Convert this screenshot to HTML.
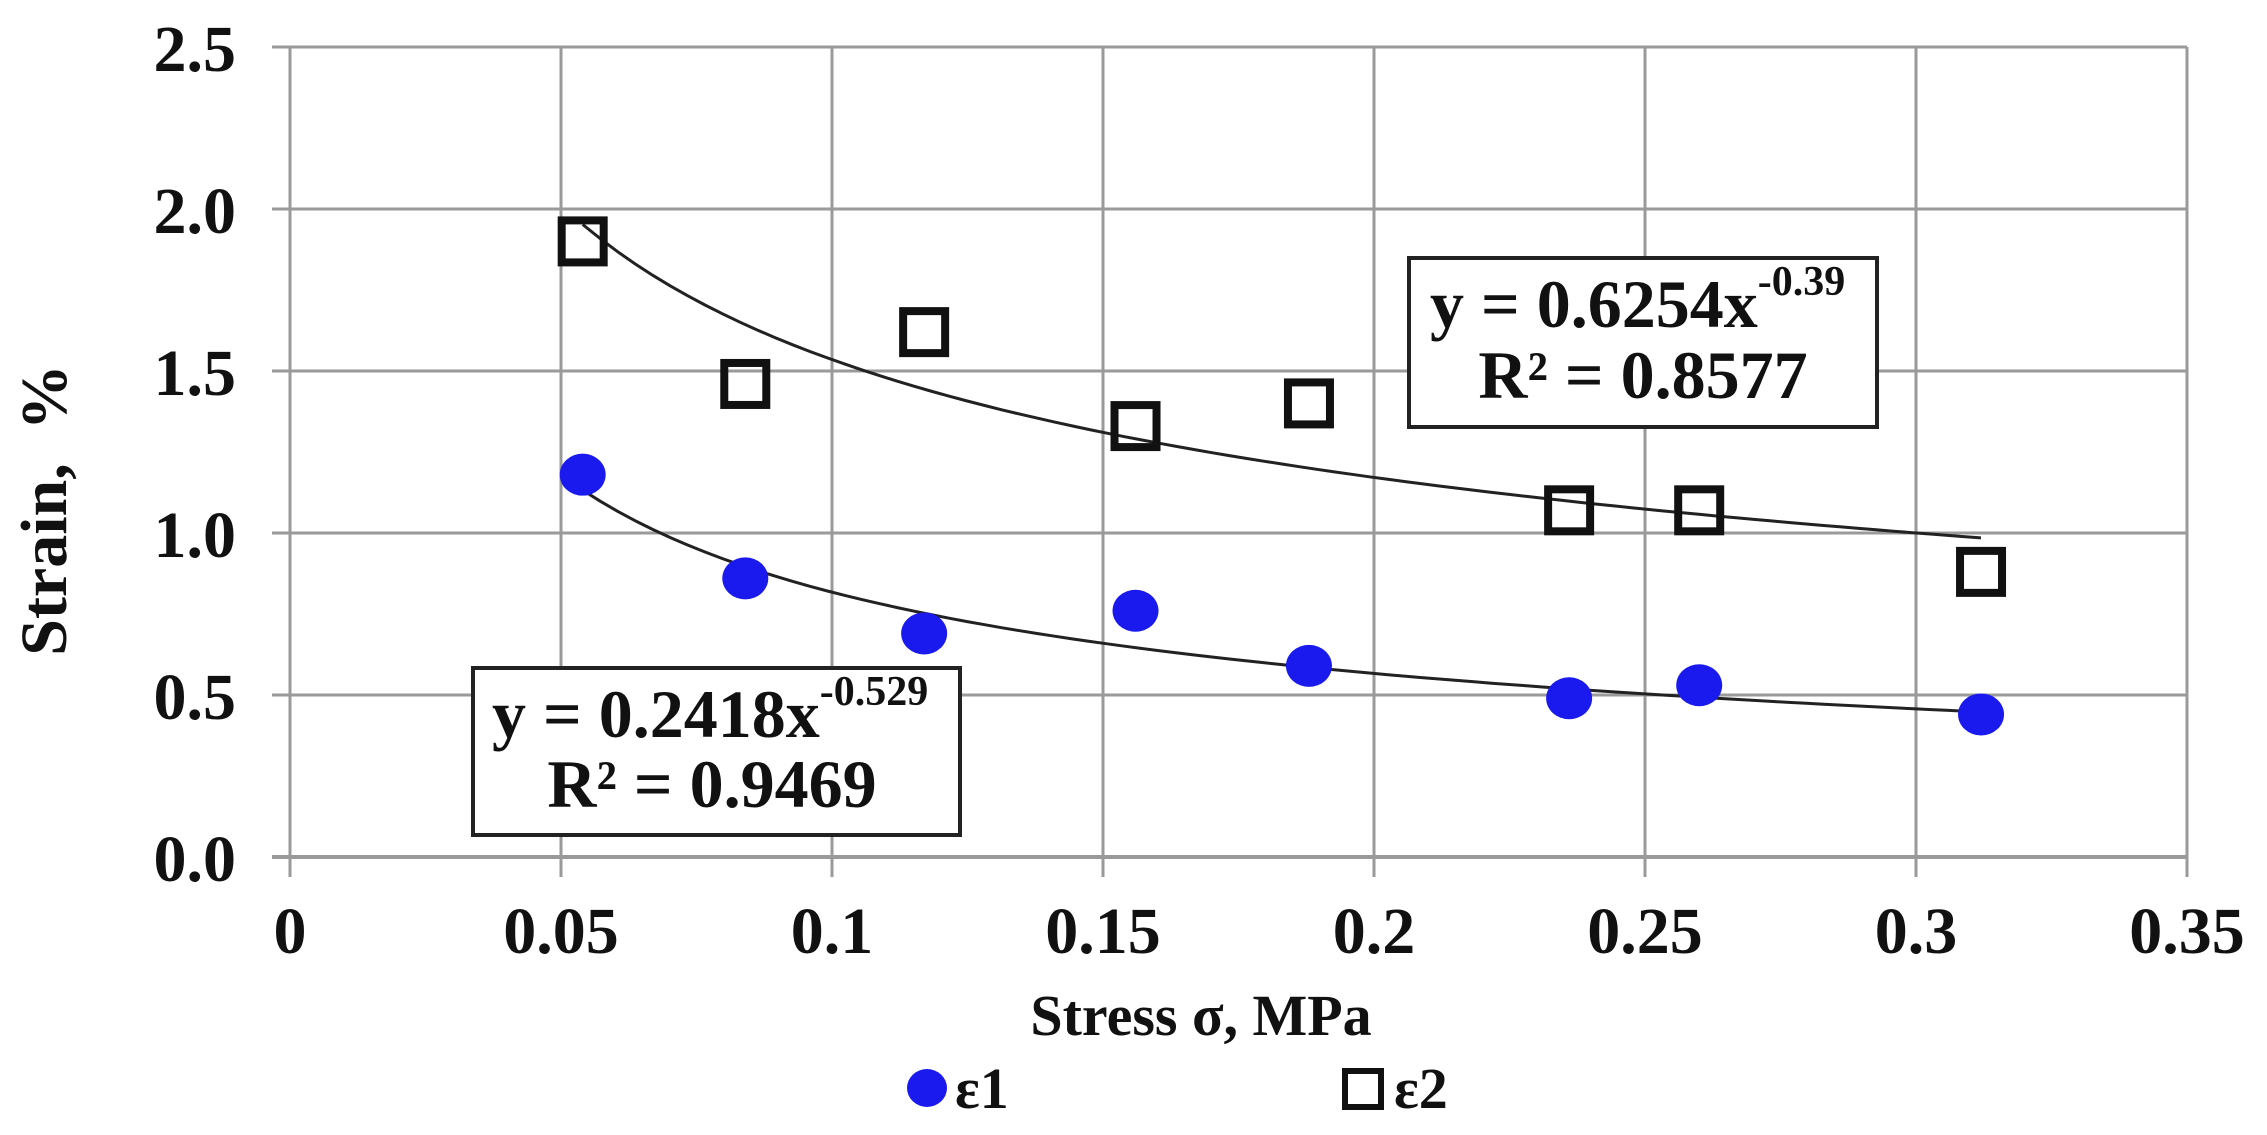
<!DOCTYPE html>
<html><head><meta charset="utf-8"><style>
html,body{margin:0;padding:0;background:#fff;}
svg{display:block;}
text{font-family:"Liberation Serif",serif;font-weight:bold;fill:#111;}
</style></head><body>
<svg id="s" width="2267" height="1135" viewBox="0 0 2267 1135" xmlns="http://www.w3.org/2000/svg">
<g stroke="#9a9a9a" stroke-width="3" fill="none">
<line x1="272" y1="47" x2="2187" y2="47"/>
<line x1="272" y1="209" x2="2187" y2="209"/>
<line x1="272" y1="371" x2="2187" y2="371"/>
<line x1="272" y1="533" x2="2187" y2="533"/>
<line x1="272" y1="695" x2="2187" y2="695"/>
<line x1="272" y1="857" x2="2187" y2="857" stroke-width="4"/>
<line x1="290" y1="47" x2="290" y2="877"/>
<line x1="561" y1="47" x2="561" y2="877"/>
<line x1="832" y1="47" x2="832" y2="877"/>
<line x1="1103" y1="47" x2="1103" y2="877"/>
<line x1="1374" y1="47" x2="1374" y2="877"/>
<line x1="1645" y1="47" x2="1645" y2="877"/>
<line x1="1916" y1="47" x2="1916" y2="877"/>
<line x1="2187" y1="47" x2="2187" y2="877"/>
</g>
<g font-size="66" text-anchor="end">
<text x="236" y="71">2.5</text>
<text x="236" y="233">2.0</text>
<text x="236" y="395">1.5</text>
<text x="236" y="557">1.0</text>
<text x="236" y="719">0.5</text>
<text x="236" y="881">0.0</text>
</g>
<g font-size="66" text-anchor="middle">
<text x="290" y="953">0</text>
<text x="561" y="953">0.05</text>
<text x="832" y="953">0.1</text>
<text x="1103" y="953">0.15</text>
<text x="1374" y="953">0.2</text>
<text x="1645" y="953">0.25</text>
<text x="1916" y="953">0.3</text>
<text x="2187" y="953">0.35</text>
</g>
<text x="1201" y="1035" font-size="58" text-anchor="middle">Stress σ, MPa</text>
<text transform="translate(66,510) rotate(-90)" font-size="66" text-anchor="middle" xml:space="preserve">Strain,  %</text>
<path id="t1" fill="none" stroke="#222" stroke-width="3"/>
<path id="t2" fill="none" stroke="#222" stroke-width="3"/>
<g id="pts"></g>
<rect x="1409" y="258" width="468" height="169" fill="#fff" stroke="#222" stroke-width="4"/>
<text x="1430" y="327" font-size="68">y = 0.6254x<tspan font-size="42" dy="-32">-0.39</tspan></text>
<text x="1643" y="398" font-size="68" text-anchor="middle">R² = 0.8577</text>
<rect x="473" y="668" width="487" height="167" fill="#fff" stroke="#222" stroke-width="4"/>
<text x="492" y="737" font-size="68">y = 0.2418x<tspan font-size="42" dy="-32">-0.529</tspan></text>
<text x="712" y="807" font-size="68" text-anchor="middle">R² = 0.9469</text>
<ellipse cx="927" cy="1088" rx="20" ry="19" fill="#1a1aee"/>
<text x="955" y="1108" font-size="58">ε1</text>
<rect x="1345" y="1071" width="36" height="36" fill="none" stroke="#111" stroke-width="6"/>
<text x="1394" y="1108" font-size="58">ε2</text>
</svg>
<script>
var X=function(v){return 290+v*5420;},Y=function(v){return 857-324*v;};
function tr(a,b){var d="";for(var i=0;i<=80;i++){var x=0.054+(0.312-0.054)*i/80;d+=(i?"L":"M")+X(x).toFixed(1)+","+Y(a*Math.pow(x,b)).toFixed(1);}return d;}
document.getElementById("t1").setAttribute("d",tr(0.2418,-0.529));
document.getElementById("t2").setAttribute("d",tr(0.6254,-0.39));
var xs=[0.054,0.084,0.117,0.156,0.188,0.236,0.26,0.312];
var e1=[1.18,0.86,0.69,0.76,0.59,0.49,0.53,0.44];
var e2=[1.90,1.46,1.62,1.33,1.40,1.07,1.07,0.88];
var g=document.getElementById("pts"),h="";
for(var i=0;i<8;i++){
h+='<ellipse cx="'+X(xs[i])+'" cy="'+Y(e1[i])+'" rx="23" ry="21" fill="#1a1aee"/>';
h+='<rect x="'+(X(xs[i])-21)+'" y="'+(Y(e2[i])-21)+'" width="42" height="42" fill="none" stroke="#111" stroke-width="8"/>';
}
g.innerHTML=h;
</script>
</body></html>
